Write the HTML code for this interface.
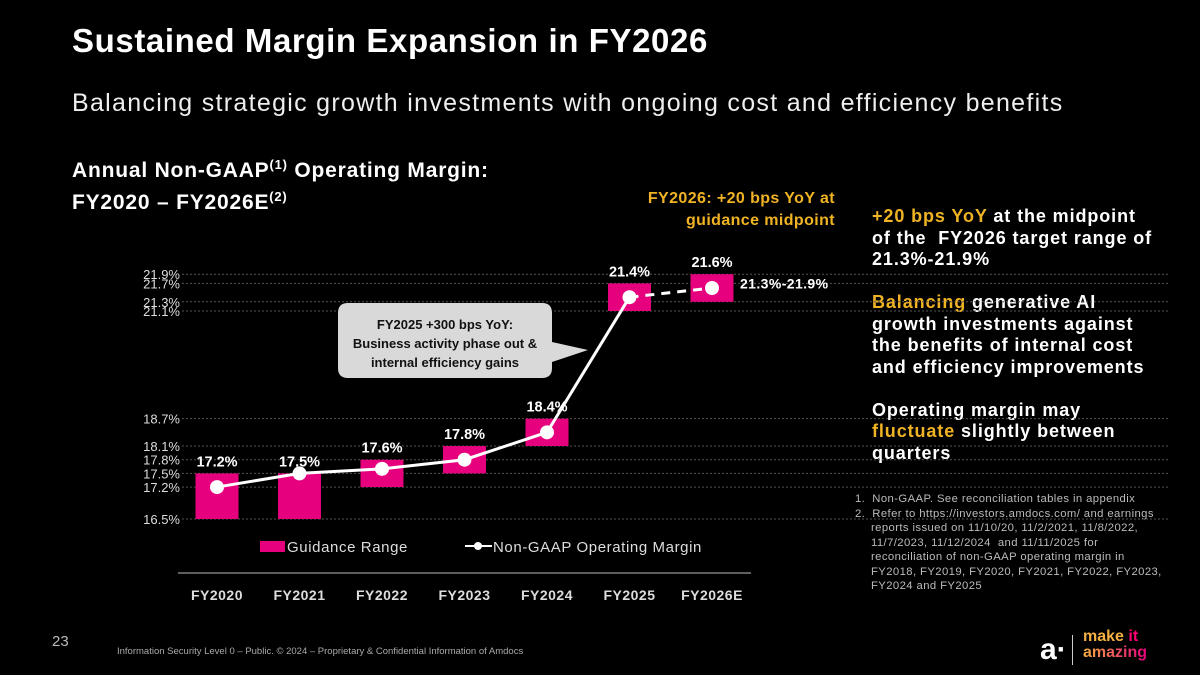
<!DOCTYPE html>
<html><head><meta charset="utf-8"><style>
body{margin:0;background:#000;}
#root{position:relative;width:1200px;height:675px;background:#000;overflow:hidden;font-family:"Liberation Sans",sans-serif;color:#fff;}
.t{position:absolute;white-space:nowrap;}
.o{color:#f0b323;}
</style></head><body>
<div id="root">
<div class="t" style="left:72px;top:22px;font-size:33px;font-weight:bold;letter-spacing:0.6px;">Sustained Margin Expansion in FY2026</div>
<div class="t" style="left:72px;top:89px;font-size:25px;letter-spacing:1.3px;color:#eee;">Balancing strategic growth investments with ongoing cost and efficiency benefits</div>
<div class="t" style="left:72px;top:152px;font-size:21px;font-weight:bold;line-height:26px;letter-spacing:0.8px;">Annual Non-GAAP<sup style="font-size:13px;">(1)</sup> Operating Margin:<br>FY2020 – FY2026E<sup style="font-size:13px;">(2)</sup></div>
<div class="t o" style="left:580px;top:188px;width:255px;text-align:right;font-size:16px;font-weight:bold;line-height:22px;letter-spacing:0.4px;">FY2026: +20 bps YoY at<br>guidance midpoint</div>
<div class="t" style="left:872px;top:206px;font-size:18px;font-weight:bold;line-height:21.5px;letter-spacing:0.9px;">
<span class="o">+20 bps YoY</span> at the midpoint<br>of the &nbsp;FY2026 target range of<br>21.3%-21.9%<br><br><span class="o">Balancing</span> generative AI<br>growth investments against<br>the benefits of internal cost<br>and efficiency improvements<br><br>Operating margin may<br><span class="o">fluctuate</span> slightly between<br>quarters</div>
<div class="t" style="left:855px;top:492px;font-size:11.3px;line-height:14.5px;color:#bbb;letter-spacing:0.4px;">1.&nbsp; Non-GAAP. See reconciliation tables in appendix<br>2.&nbsp; Refer to https://investors.amdocs.com/ and earnings<br><span style="padding-left:16px">reports issued on 11/10/20, 11/2/2021, 11/8/2022,</span><br><span style="padding-left:16px">11/7/2023, 11/12/2024 &nbsp;and 11/11/2025 for</span><br><span style="padding-left:16px">reconciliation of non-GAAP operating margin in</span><br><span style="padding-left:16px">FY2018, FY2019, FY2020, FY2021, FY2022, FY2023,</span><br><span style="padding-left:16px">FY2024 and FY2025</span></div>
<div class="t" style="left:52px;top:633px;font-size:15px;color:#bbb;">23</div>
<div class="t" style="left:117px;top:646px;font-size:9.5px;color:#aaa;">Information Security Level 0 – Public. © 2024 – Proprietary &amp; Confidential Information of Amdocs</div>
<div class="t" style="left:1040px;top:629px;">
<span style="position:absolute;left:0;top:4px;font-size:30px;font-weight:bold;color:#fff;">a·</span>
<span style="position:absolute;left:32px;top:6px;width:1px;height:30px;background:#ccc;"></span>
<span style="position:absolute;left:43px;top:0;font-size:16px;font-weight:bold;line-height:16px;color:#f5b041;">make <span style="color:#f07;">it</span><br><span style="background:linear-gradient(90deg,#f5b041,#e6007e);-webkit-background-clip:text;color:transparent;">amazing</span></span></div>
<svg id="chart" width="1200" height="675" style="position:absolute;left:0;top:0;"></svg>
</div>
<script>
const years=["FY2020","FY2021","FY2022","FY2023","FY2024","FY2025","FY2026E"];
const guideLow=[16.5,16.5,17.2,17.5,18.1,21.1,21.3];
const guideHigh=[17.5,17.5,17.8,18.1,18.7,21.7,21.9];
const margin=[17.2,17.5,17.6,17.8,18.4,21.4,21.6];
const marginLabels=["17.2%","17.5%","17.6%","17.8%","18.4%","21.4%","21.6%"];
const ticks=[16.5,17.2,17.5,17.8,18.1,18.7,21.1,21.3,21.7,21.9];
const NS="http://www.w3.org/2000/svg";
const svg=document.getElementById('chart');
function y(v){return v>20 ? 311-(v-21.1)*46 : 519-(v-16.5)*45.6;}
function x(i){return 217+i*82.5;}
function mk(tag,attrs,parent){const e=document.createElementNS(NS,tag);for(const k in attrs)e.setAttribute(k,attrs[k]);(parent||svg).appendChild(e);return e;}
ticks.forEach(t=>{
  const l=mk('line',{x1:182,x2:1170,y1:y(t),y2:y(t),stroke:'#555','stroke-dasharray':'2,2','stroke-width':1});
  
  
  const tx=mk('text',{x:180,y:y(t)+5,'text-anchor':'end',fill:'#ddd','font-size':13,'font-family':'Liberation Sans'});
  tx.textContent=t.toFixed(1)+'%';
  
  
});
years.forEach((yr,i)=>{
  const r=mk('rect',{x:x(i)-21.5,y:y(guideHigh[i]),width:43,height:y(guideLow[i])-y(guideHigh[i]),fill:'#e6007e'});
  
  
  const t=mk('text',{x:x(i),y:600,'text-anchor':'middle',fill:'#ddd','font-size':14,'font-weight':'bold','font-family':'Liberation Sans','letter-spacing':0.5});
  t.textContent=yr;
  
  
});
const axis=mk('line',{x1:178,x2:751,y1:573,y2:573,stroke:'#bbb','stroke-width':1});


let pts=[];for(let i=0;i<6;i++)pts.push(x(i)+','+y(margin[i]));
const pl=mk('polyline',{points:pts.join(' '),fill:'none',stroke:'#fff','stroke-width':3});


const dl=mk('line',{x1:x(5),y1:y(margin[5]),x2:x(6),y2:y(margin[6]),stroke:'#fff','stroke-width':3,'stroke-dasharray':'9,7'});


margin.forEach((m,i)=>{
  const c=mk('circle',{cx:x(i),cy:y(m),r:7,fill:'#fff'});
  
  
  const t=mk('text',{x:x(i),y:y(guideHigh[i])-7,'text-anchor':'middle',fill:'#fff','font-size':14.5,'font-weight':'bold','font-family':'Liberation Sans'});
  t.textContent=marginLabels[i];
  
  
});
const rl=mk('text',{x:740,y:y(21.7)+5,fill:'#fff','font-size':14,'font-weight':'bold','font-family':'Liberation Sans','letter-spacing':0.4});
rl.textContent='21.3%-21.9%';


const cb=mk('path',{d:'M348 303 H542 Q552 303 552 313 V342 L588 350 L552 362 V368 Q552 378 542 378 H348 Q338 378 338 368 V313 Q338 303 348 303 Z',fill:'#d9d9d9'});


["FY2025 +300 bps YoY:","Business activity phase out &","internal efficiency gains"].forEach((s,i)=>{
  const t=mk('text',{x:445,y:329+i*19,'text-anchor':'middle',fill:'#111','font-size':13,'font-weight':'bold','font-family':'Liberation Sans'});
  t.textContent=s;
  
  
});
const lr=mk('rect',{x:260,y:541,width:25,height:11,fill:'#e6007e'});


const lt1=mk('text',{x:287,y:552,fill:'#ddd','font-size':15,'font-family':'Liberation Sans','letter-spacing':0.6});
lt1.textContent='Guidance Range';


const ll=mk('line',{x1:465,x2:492,y1:546,y2:546,stroke:'#fff','stroke-width':2});


const lc=mk('circle',{cx:478,cy:546,r:4,fill:'#fff'});


const lt2=mk('text',{x:493,y:552,fill:'#ddd','font-size':15,'font-family':'Liberation Sans','letter-spacing':0.6});
lt2.textContent='Non-GAAP Operating Margin';


</script>
</body></html>
